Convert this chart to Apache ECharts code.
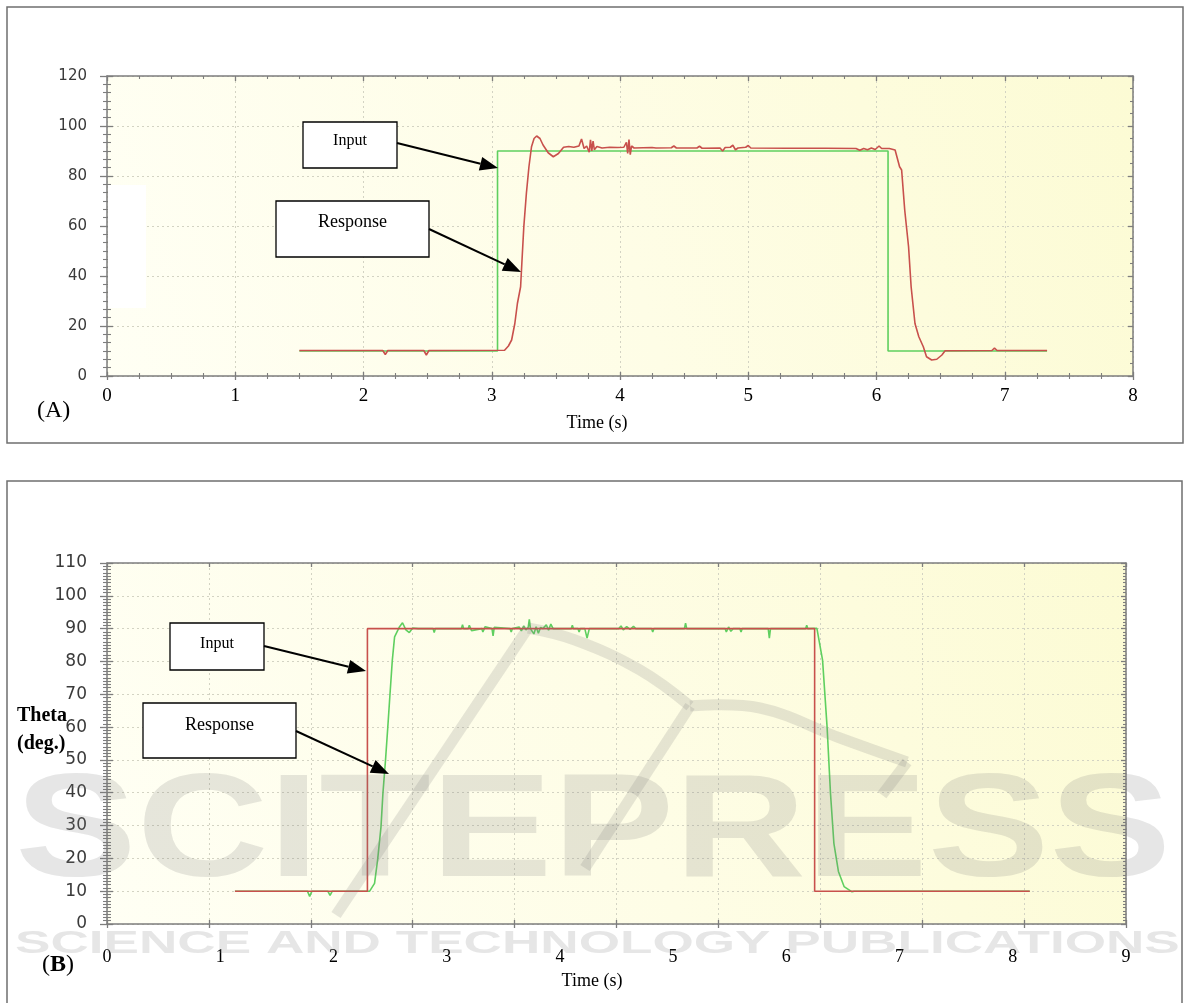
<!DOCTYPE html>
<html>
<head>
<meta charset="utf-8">
<script src="https://cdn.jsdelivr.net/npm/echarts@6/dist/echarts.min.js"></script>
<style>
  html, body { margin: 0; padding: 0; background: #fff; }
  #chart { width: 1184px; height: 1003px; }
</style>
</head>
<body>
<div id="chart"></div>
<script>
// ---------- Panel A: step input (green) and measured response (red) ----------
const inputA = [[1.50, 10], [3.045, 10], [3.045, 90], [6.09, 90], [6.09, 10], [7.33, 10]];
const responseA = [
  [1.50, 10.2], [2.15, 10.2], [2.17, 8.6], [2.19, 10.2], [2.47, 10.2], [2.49, 8.4], [2.51, 10.2],
  [3.10, 10.3], [3.13, 12], [3.155, 14.4], [3.18, 21], [3.20, 29], [3.225, 35.7], [3.236, 46.4],
  [3.25, 59.7], [3.27, 73], [3.29, 83.7], [3.31, 91.7], [3.33, 95], [3.35, 96], [3.376, 95],
  [3.40, 92.4], [3.44, 89.3], [3.48, 87.7], [3.52, 89], [3.56, 91.5], [3.60, 91.8], [3.64, 91.5],
  [3.68, 92], [3.70, 94.8], [3.72, 91], [3.74, 92], [3.76, 89.5], [3.77, 94.5], [3.78, 90],
  [3.79, 94], [3.80, 90.5], [3.82, 91.8], [3.86, 91.2], [3.92, 91.5], [3.98, 91.4], [4.03, 91.5],
  [4.05, 93.5], [4.06, 89], [4.07, 94.6], [4.08, 88.5], [4.09, 92], [4.11, 91.2], [4.18, 91.3],
  [4.25, 91.4], [4.26, 92.2], [4.28, 91.2], [4.40, 91.3], [4.42, 92], [4.44, 91.2], [4.60, 91.2],
  [4.62, 91.9], [4.64, 91.1], [4.78, 91.2], [4.80, 90], [4.82, 91.4], [4.86, 91.5], [4.88, 92.3],
  [4.90, 90.5], [4.92, 91.2], [4.98, 91.5], [5.00, 92.2], [5.02, 91.2], [5.30, 91.1], [5.60, 91.1],
  [5.84, 91], [5.87, 90.3], [5.90, 91], [5.93, 90.5], [5.96, 91.2], [5.99, 90.6], [6.02, 92],
  [6.04, 91], [6.10, 91], [6.145, 90.4], [6.18, 83.7], [6.196, 82.4], [6.22, 66.4], [6.25, 51.7],
  [6.27, 35.7], [6.30, 21], [6.33, 15.7], [6.365, 11.7], [6.39, 7.7], [6.43, 6.4], [6.47, 6.7],
  [6.51, 8.4], [6.535, 10.1], [6.90, 10.2], [6.92, 11.2], [6.94, 10.2], [7.33, 10.2]
];
const xRangeA = [0, 8];
const yRangeA = [0, 120];
const yStepA = 20;

// ---------- Panel B: step input (red) and measured response (green) ----------
const inputB = [[1.13, 10], [2.30, 10], [2.30, 90], [6.25, 90], [6.25, 10], [8.15, 10]];
const responseB = [
  [1.13, 10], [1.77, 10], [1.79, 8.4], [1.81, 10], [1.95, 10], [1.97, 8.7], [1.99, 10],
  [2.32, 10], [2.363, 12.4], [2.39, 19.5], [2.42, 29.6], [2.437, 39.8], [2.46, 50], [2.48, 60],
  [2.50, 70.3], [2.52, 80.4], [2.54, 87.5], [2.584, 90.6], [2.61, 91.8], [2.64, 89.6], [2.67, 88.8],
  [2.70, 90.2], [2.75, 90], [2.88, 90], [2.89, 88.8], [2.90, 90], [3.13, 90], [3.14, 91.2],
  [3.15, 90], [3.19, 90], [3.20, 91], [3.22, 89.4], [3.23, 90], [3.31, 90], [3.32, 89],
  [3.34, 90.6], [3.35, 90], [3.40, 90], [3.41, 87.8], [3.42, 90.4], [3.43, 90], [3.56, 90],
  [3.57, 89], [3.58, 90], [3.64, 90.5], [3.66, 89.3], [3.68, 90.8], [3.70, 89.6], [3.72, 90.4],
  [3.73, 92.8], [3.74, 90], [3.77, 88.4], [3.79, 90.6], [3.81, 88.6], [3.83, 90.4], [3.85, 90],
  [3.88, 91.2], [3.90, 89.5], [3.92, 91.4], [3.94, 90], [4.10, 90], [4.11, 91], [4.12, 90],
  [4.16, 90], [4.17, 89], [4.18, 90], [4.22, 90], [4.24, 87.1], [4.26, 90], [4.52, 90],
  [4.54, 90.8], [4.56, 89.6], [4.59, 90.6], [4.62, 89.8], [4.65, 90.7], [4.67, 90], [4.81, 90],
  [4.82, 89], [4.83, 90], [5.10, 90], [5.11, 91.7], [5.12, 90], [5.46, 90], [5.47, 89],
  [5.49, 90.5], [5.51, 89.2], [5.53, 90], [5.59, 90], [5.60, 89], [5.61, 90], [5.84, 90],
  [5.85, 87.1], [5.86, 90], [6.17, 90], [6.18, 91], [6.19, 90], [6.27, 90.1], [6.32, 80.4],
  [6.36, 60], [6.39, 39.8], [6.42, 24.6], [6.46, 16], [6.51, 11.4], [6.58, 9.8], [6.60, 10],
  [8.15, 10]
];
const xLabelRangeB = [0, 9];   // printed time labels
const xTickRangeB = [0, 10];   // plotter's own tick marks
const yRangeB = [0, 110];
const yStepB = 10;

const RED = '#c8504c';
const GREEN = '#5fcf5f';
const AXIS = '#7d7d7d';
const GRIDLINE = '#d3d3c3';
const SERIF = '"Liberation Serif", "Times New Roman", serif';
const SANS = '"DejaVu Sans", sans-serif';
const MARK_FONT = '"Liberation Sans", Arial, sans-serif';

const plotBg = {
  type: 'linear', x: 0, y: 1, x2: 1, y2: 0,
  colorStops: [{ offset: 0, color: '#fffff4' }, { offset: 0.5, color: '#fefde6' }, { offset: 1, color: '#fcfbd4' }]
};

// bare value axis; features are switched on per use
function bare(gridIndex, range, interval, position) {
  return {
    type: 'value', gridIndex, min: range[0], max: range[1], interval, position,
    axisLine: { show: false }, axisTick: { show: false }, minorTick: { show: false },
    axisLabel: { show: false }, splitLine: { show: false }, minorSplitLine: { show: false }
  };
}
function withLine(ax) {
  ax.axisLine = { show: true, onZero: false, lineStyle: { color: AXIS, width: 1.5 } };
  return ax;
}
function withTicks(ax, inside, len, minorSplit, minorLen) {
  ax.axisTick = { show: true, inside, length: len, lineStyle: { color: AXIS, width: 1.3 } };
  if (minorSplit) {
    ax.minorTick = { show: true, splitNumber: minorSplit, length: minorLen, lineStyle: { color: AXIS, width: 1.1 } };
  }
  return ax;
}
function withGridLines(ax) {
  ax.splitLine = { show: true, lineStyle: { color: GRIDLINE, type: [2, 3], width: 1 } };
  return ax;
}

const xAxes = [
  // panel A: labelled bottom axis
  (() => {
    const ax = withGridLines(withTicks(withLine(bare(0, xRangeA, 1, 'bottom')), false, 4, 4, 3));
    ax.axisLabel = { show: true, margin: 11, fontFamily: SERIF, fontSize: 19, color: '#000', showMinLabel: true, showMaxLabel: true };
    return ax;
  })(),
  withTicks(bare(0, xRangeA, 1, 'bottom'), true, 4, 4, 3),
  withTicks(withLine(bare(0, xRangeA, 1, 'top')), true, 5, 4, 3),
  // panel B: printed labels (data axis)
  (() => {
    const ax = bare(1, xLabelRangeB, 1, 'bottom');
    ax.axisLabel = { show: true, margin: 24, fontFamily: SERIF, fontSize: 18, color: '#000', showMinLabel: true, showMaxLabel: true };
    return ax;
  })(),
  withGridLines(withTicks(withLine(bare(1, xTickRangeB, 1, 'bottom')), false, 4)),
  withTicks(bare(1, xTickRangeB, 1, 'bottom'), true, 4),
  withTicks(withLine(bare(1, xTickRangeB, 1, 'top')), true, 4)
];

const yAxes = [
  (() => {
    const ax = withGridLines(withTicks(withLine(bare(0, yRangeA, yStepA, 'left')), false, 7, 6, 4));
    ax.axisLabel = { show: true, margin: 20, fontFamily: SANS, fontSize: 15, color: '#3a3a3a', showMinLabel: true, showMaxLabel: true };
    return ax;
  })(),
  withTicks(bare(0, yRangeA, yStepA, 'left'), true, 6, 6, 4),
  withTicks(withLine(bare(0, yRangeA, yStepA, 'right')), true, 5, 4, 3),
  (() => {
    const ax = withGridLines(withTicks(withLine(bare(1, yRangeB, yStepB, 'left')), false, 7, 10, 4));
    ax.axisLabel = { show: true, margin: 20, fontFamily: SANS, fontSize: 17, color: '#3a3a3a', showMinLabel: true, showMaxLabel: true };
    return ax;
  })(),
  withTicks(bare(1, yRangeB, yStepB, 'left'), true, 6, 10, 4),
  withTicks(withLine(bare(1, yRangeB, yStepB, 'right')), true, 5, 10, 3)
];

function trace(name, data, color, xi, yi, z) {
  return {
    name, type: 'line', data, xAxisIndex: xi, yAxisIndex: yi, z,
    showSymbol: false, symbol: 'none', smooth: false, animation: false,
    lineStyle: { color, width: 1.6 }
  };
}

// callout box with text
function callout(x, y, w, h, text, size, textY) {
  return [
    { type: 'rect', z: 20, shape: { x, y, width: w, height: h }, style: { fill: '#fff', stroke: '#000', lineWidth: 1.3 } },
    { type: 'text', z: 21, x: x + w / 2, y: textY, style: { text, font: size + 'px ' + SERIF, fill: '#000', align: 'center', verticalAlign: 'middle' } }
  ];
}
// straight arrow with a filled head
function arrow(x1, y1, x2, y2) {
  const len = 18, hw = 7;
  const a = Math.atan2(y2 - y1, x2 - x1);
  const bx = x2 - len * Math.cos(a), by = y2 - len * Math.sin(a);
  const nx = -Math.sin(a) * hw, ny = Math.cos(a) * hw;
  return [
    { type: 'line', z: 20, shape: { x1, y1, x2: bx, y2: by }, style: { stroke: '#000', lineWidth: 2 } },
    { type: 'polygon', z: 20, shape: { points: [[x2, y2], [bx + nx, by + ny], [bx - nx, by - ny]] }, style: { fill: '#000' } }
  ];
}
function label(x, y, text, font, align) {
  return { type: 'text', z: 20, x, y, style: { text, font, fill: '#000', align: align || 'left', verticalAlign: 'middle' } };
}

const WM = 'rgba(120,120,120,0.19)';
function stroke(points, smooth) {
  return { type: 'polyline', z: 30, silent: true, shape: { points, smooth: smooth || 0 }, style: { stroke: WM, lineWidth: 11, fill: null } };
}

const graphics = [
  // panel frames
  { type: 'rect', z: 1, shape: { x: 7, y: 7, width: 1176, height: 436 }, style: { fill: null, stroke: '#6f6f6f', lineWidth: 1.5 } },
  { type: 'rect', z: 1, shape: { x: 7, y: 481, width: 1175, height: 560 }, style: { fill: null, stroke: '#6f6f6f', lineWidth: 1.5 } },
  // blank patch inside panel A plot
  { type: 'rect', z: 1, shape: { x: 108, y: 185, width: 38, height: 123 }, style: { fill: '#ffffff' } },

  label(37, 411, '(A)', '24px ' + SERIF),
  label(597, 423, 'Time (s)', '18px ' + SERIF, 'center'),
  {
    type: 'text', z: 20, x: 42, y: 965,
    style: {
      text: '{p|(}{b|B}{p|)}', verticalAlign: 'middle', align: 'left',
      rich: { p: { font: '24px ' + SERIF, fill: '#000' }, b: { font: 'bold 24px ' + SERIF, fill: '#000' } }
    }
  },
  label(592, 981, 'Time (s)', '18px ' + SERIF, 'center'),
  label(17, 716, 'Theta', 'bold 20px ' + SERIF),
  label(17, 744, '(deg.)', 'bold 20px ' + SERIF),

  ...callout(303, 122, 94, 46, 'Input', 16, 141),
  ...arrow(397, 143, 498, 168),
  ...callout(276, 201, 153, 56, 'Response', 18, 222),
  ...arrow(429, 229, 521, 272),

  ...callout(170, 623, 94, 47, 'Input', 16, 644),
  ...arrow(264, 646, 366, 671),
  ...callout(143, 703, 153, 55, 'Response', 18, 725),
  ...arrow(296, 731, 389, 774),

  // publisher mark across the lower panel
  {
    type: 'text', z: 30, silent: true, x: 15, y: 836, scaleX: 1.25,
    style: { text: 'SCITEPRESS', font: 'bold 146px ' + MARK_FONT, fill: WM, align: 'left', verticalAlign: 'middle' }
  },
  {
    type: 'text', z: 30, silent: true, x: 15, y: 944, scaleX: 1.66,
    style: { text: 'SCIENCE AND TECHNOLOGY PUBLICATIONS', font: 'bold 32px ' + MARK_FONT, fill: WM, align: 'left', verticalAlign: 'middle' }
  },
  stroke([[336, 915], [528, 628]]),
  stroke([[528, 628], [575, 640], [640, 670], [690, 706]], 0.4),
  stroke([[690, 706], [760, 708], [840, 738], [907, 762]], 0.4),
  stroke([[907, 762], [882, 795]]),
  stroke([[690, 706], [585, 868]])
];

const option = {
  animation: false,
  backgroundColor: '#ffffff',
  grid: [
    { left: 107, top: 76, width: 1026, height: 300, show: true, backgroundColor: plotBg, borderWidth: 0, containLabel: false, outerBoundsMode: 'none' },
    { left: 107, top: 563, width: 1019, height: 361, show: true, backgroundColor: plotBg, borderWidth: 0, containLabel: false, outerBoundsMode: 'none' }
  ],
  xAxis: xAxes,
  yAxis: yAxes,
  series: [
    trace('Input', inputA, GREEN, 0, 0, 3),
    trace('Response', responseA, RED, 0, 0, 4),
    trace('Response', responseB, GREEN, 3, 3, 3),
    trace('Input', inputB, RED, 3, 3, 4)
  ],
  graphic: graphics
};

const chart = echarts.init(document.getElementById('chart'), null, { renderer: 'canvas' });
chart.setOption(option);
</script>
</body>
</html>
